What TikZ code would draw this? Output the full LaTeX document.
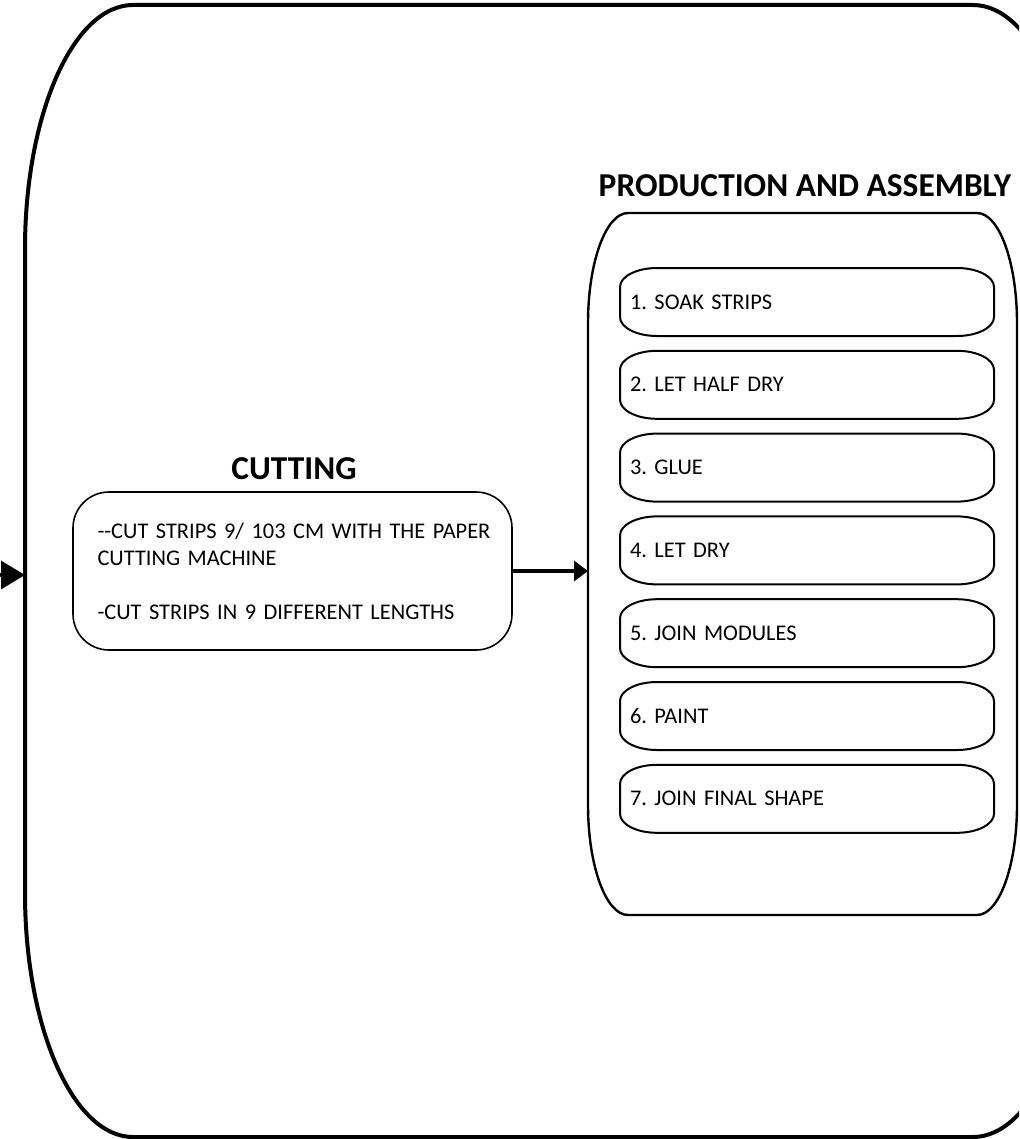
\documentclass[tikz,border=0pt]{standalone}
\usepackage{fontspec}
\setmainfont{Carlito}
\usetikzlibrary{arrows.meta,calc}

\tikzset{
    headtext/.style={font=\fontsize{16.7}{20}\selectfont\bfseries},
    bodytext/.style={font=\fontsize{11.2}{13.5}\selectfont\frenchspacing},
    ghost/.style={inner sep=0pt, outer sep=0pt},
    flow/.style={line width=1.6pt, -{Triangle[length=7pt,width=10pt]}},
}

\begin{document}
\begin{tikzpicture}[x=0.5pt,y=-0.5pt]
    \def\ovalbox#1#2#3#4{
        \draw[line width=#4] ($(#1.north west)+(#2,0)$) -- ($(#1.north east)+(-#2,0)$)
            arc[start angle=90, end angle=0, x radius=#2, y radius=#3]
            -- ($(#1.south east)+(0,#3)$)
            arc[start angle=0, end angle=-90, x radius=#2, y radius=#3]
            -- ($(#1.south west)+(#2,0)$)
            arc[start angle=270, end angle=180, x radius=#2, y radius=#3]
            -- ($(#1.north west)+(0,-#3)$)
            arc[start angle=180, end angle=90, x radius=#2, y radius=#3] -- cycle;
    }

    \useasboundingbox (0,0) rectangle (1019,1139);
    \clip (0,0) rectangle (1019,1139);

    % Whole process (runs off the right edge)
    \node[ghost, minimum width=528pt, minimum height=566pt] (outer) at (553,571) {};
    \ovalbox{outer}{54pt}{122pt}{2pt}

    % Cutting
    \node[headtext] (cuthead) at (294,469) {CUTTING};
    \node[bodytext, draw, line width=0.8pt, rounded corners=18pt, minimum width=219.5pt, minimum height=79pt,
          text width=195pt, inner xsep=12.25pt, align=left] (cut) at (292.5,571)
        {\mbox{-{}-CUT STRIPS 9/ 103 CM WITH THE PAPER}\\CUTTING MACHINE\\[13.5pt]\mbox{-CUT STRIPS IN 9 DIFFERENT LENGTHS}};

    % Production and assembly
    \node[headtext] (prodhead) at (805,186) {PRODUCTION AND ASSEMBLY};
    \node[ghost, minimum width=214.5pt, minimum height=351pt] (prod) at (802.5,564) {};
    \ovalbox{prod}{20pt}{55pt}{1.2pt}

    \foreach \txt [count=\i] in {1. SOAK STRIPS, 2. LET HALF DRY, 3. GLUE, 4. LET DRY,
                                 5. JOIN MODULES, 6. PAINT, 7. JOIN FINAL SHAPE}{
        \node[bodytext, ghost, minimum width=187pt, minimum height=34pt, text width=177pt, align=left]
            (step\i) at (807,{302+82.8*(\i-1)}) {\txt};
        \ovalbox{step\i}{18.5pt}{9.5pt}{1pt}
    }

    % Arrows
    \coordinate (feed) at (-40,575);
    \draw[flow, -{Triangle[length=12pt,width=14pt]}] (feed) -- (feed -| outer.west);
    \draw[flow] (cut.east) -- (cut.east -| prod.west);
\end{tikzpicture}
\end{document}
